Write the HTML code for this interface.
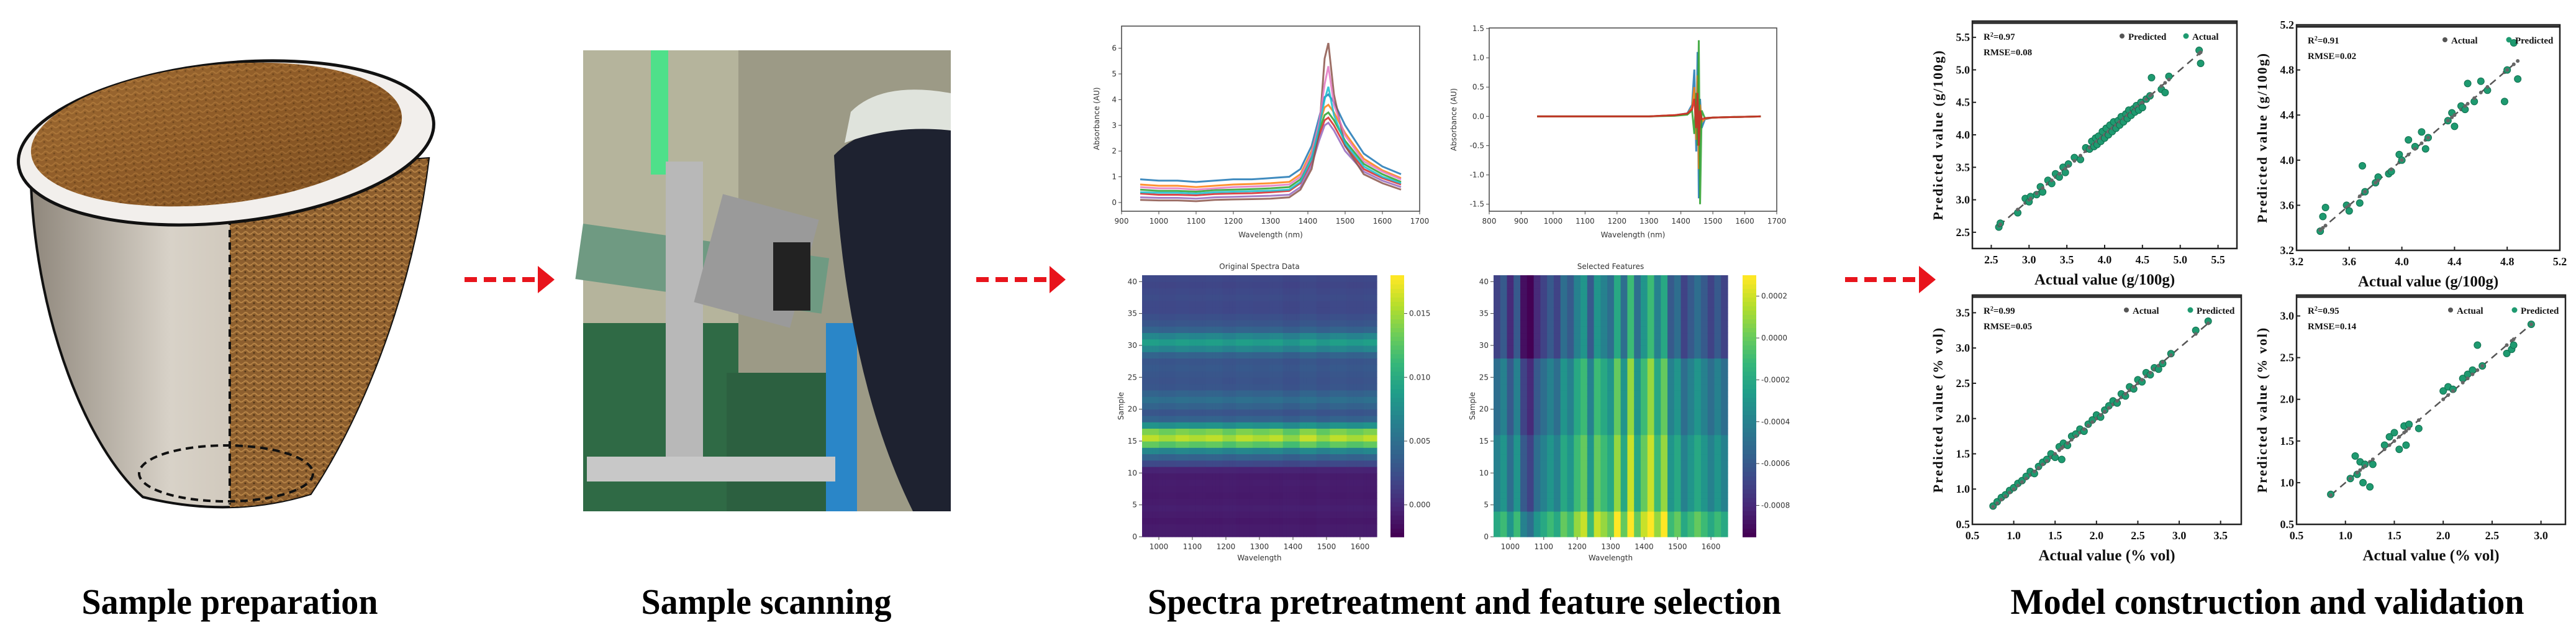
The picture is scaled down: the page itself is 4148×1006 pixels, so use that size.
<!DOCTYPE html>
<html><head><meta charset="utf-8"><style>
html,body{margin:0;padding:0;background:#fff;}
svg{display:block;}
.cap{font-family:"Liberation Serif",serif;font-weight:bold;font-size:58px;fill:#000;}
.sm{font-family:"DejaVu Sans","Liberation Sans",sans-serif;font-size:12px;fill:#333;}
.sr{font-family:"Liberation Serif",serif;font-weight:bold;fill:#111;}
</style></head><body>
<svg id="root" width="4148" height="1006" viewBox="0 0 4148 1006" xmlns="http://www.w3.org/2000/svg">
<defs>
<linearGradient id="potBody" x1="0" x2="1"><stop offset="0" stop-color="#8f877c"/><stop offset="0.35" stop-color="#d8d2c8"/><stop offset="1" stop-color="#b9ab98"/></linearGradient>
<linearGradient id="soil" x1="0" x2="1" y1="0" y2="1"><stop offset="0" stop-color="#b07a3c"/><stop offset="0.5" stop-color="#8f5a26"/><stop offset="1" stop-color="#6b4118"/></linearGradient>
<pattern id="grain" width="14" height="10" patternUnits="userSpaceOnUse"><rect width="14" height="10" fill="#8a5a28"/><path d="M0 5 Q4 1 7 5 T14 5" stroke="#b58040" stroke-width="2" fill="none"/><circle cx="3" cy="8" r="1.5" fill="#4d2f10"/></pattern>
<clipPath id="potR"><rect x="370" y="0" width="400" height="900"/></clipPath>
</defs>

<g>
<path d="M50 300 C 60 520, 140 720, 230 800 Q370 835 500 795 C 590 660, 665 460, 690 255 Z" fill="url(#potBody)" stroke="#111" stroke-width="4"/>
<path d="M50 300 C 60 520, 140 720, 230 800 Q370 835 500 795 C 590 660, 665 460, 690 255 Z" fill="url(#grain)" clip-path="url(#potR)" opacity="0.95"/>
<line x1="370" y1="350" x2="370" y2="812" stroke="#111" stroke-width="4" stroke-dasharray="12 8"/>
<ellipse cx="364" cy="762" rx="140" ry="45" fill="none" stroke="#111" stroke-width="4" stroke-dasharray="12 8"/>
<ellipse cx="364" cy="230" rx="336" ry="128" fill="#f2efec" stroke="#111" stroke-width="5" transform="rotate(-6 364 230)"/>
<ellipse cx="350" cy="215" rx="300" ry="112" fill="url(#soil)" transform="rotate(-6 364 230)"/>
<ellipse cx="350" cy="215" rx="300" ry="112" fill="url(#grain)" opacity="0.5" transform="rotate(-6 364 230)"/>
</g>

<g>
<rect x="939" y="81" width="592" height="742" fill="#9c9a86"/>
<rect x="939" y="81" width="250" height="742" fill="#b5b49c"/>
<rect x="939" y="360" width="400" height="90" fill="#6f9a82" transform="rotate(8 939 360)"/>
<rect x="939" y="520" width="250" height="303" fill="#2f6a45"/>
<rect x="1170" y="600" width="200" height="223" fill="#2c6040"/>
<rect x="1330" y="520" width="50" height="303" fill="#2a86c8"/>
<rect x="1048" y="81" width="28" height="200" fill="#4fe08a"/>
<rect x="1072" y="260" width="60" height="500" fill="#b8b8b8"/>
<rect x="945" y="735" width="400" height="40" fill="#c8c8c8"/>
<rect x="1138" y="330" width="160" height="180" fill="#9a9a9a" transform="rotate(15 1218 420)"/>
<rect x="1245" y="390" width="60" height="110" fill="#222"/>
<path d="M1343 250 Q1400 190 1531 200 L1531 823 L1470 823 Q1360 600 1343 250 Z" fill="#1e2230"/>
<path d="M1360 230 Q1440 200 1531 210 L1531 150 Q1420 130 1370 180 Z" fill="#dfe3dc"/>
</g>

<g><line x1="748" y1="450" x2="866" y2="450" stroke="#e8141c" stroke-width="8" stroke-dasharray="20 11"/><path d="M866 428 L893 450 L866 472 Z" fill="#e8141c"/></g>
<g><line x1="1572" y1="450" x2="1690" y2="450" stroke="#e8141c" stroke-width="8" stroke-dasharray="20 11"/><path d="M1690 428 L1716 450 L1690 472 Z" fill="#e8141c"/></g>
<g><line x1="2971" y1="450" x2="3090" y2="450" stroke="#e8141c" stroke-width="8" stroke-dasharray="20 11"/><path d="M3090 428 L3117 450 L3090 472 Z" fill="#e8141c"/></g>

<text class="cap" x="370" y="988" text-anchor="middle" textLength="477" lengthAdjust="spacingAndGlyphs">Sample preparation</text>
<text class="cap" x="1234" y="988" text-anchor="middle" textLength="403" lengthAdjust="spacingAndGlyphs">Sample scanning</text>
<text class="cap" x="2358" y="988" text-anchor="middle" textLength="1020" lengthAdjust="spacingAndGlyphs">Spectra pretreatment and feature selection</text>
<text class="cap" x="3651" y="988" text-anchor="middle" textLength="827" lengthAdjust="spacingAndGlyphs">Model construction and validation</text>
<g id="charts"></g>
</svg>
<script>
const wl = [950,1000,1050,1100,1150,1200,1250,1300,1350,1380,1410,1430,1445,1455,1470,1500,1550,1600,1650];
const rawS1 = [0.9,0.85,0.85,0.8,0.85,0.9,0.9,0.95,1.0,1.3,2.2,3.3,4.1,4.2,3.9,3.0,1.9,1.4,1.1];
const rawS2 = [0.7,0.65,0.65,0.6,0.65,0.7,0.72,0.75,0.8,1.1,2.0,3.0,3.7,3.8,3.5,2.7,1.7,1.25,0.95];
const rawS3 = [0.5,0.45,0.45,0.42,0.48,0.5,0.52,0.55,0.6,0.9,1.8,2.8,3.4,3.5,3.2,2.4,1.5,1.1,0.8];
const rawS4 = [0.35,0.3,0.3,0.28,0.33,0.35,0.36,0.4,0.45,0.75,1.6,2.6,3.2,3.3,3.0,2.2,1.3,0.95,0.7];
const rawS5 = [0.2,0.18,0.18,0.15,0.2,0.22,0.24,0.26,0.3,0.6,1.45,2.4,3.0,3.1,2.8,2.0,1.2,0.85,0.6];
const rawS6 = [0.1,0.08,0.08,0.05,0.1,0.12,0.13,0.15,0.2,0.5,1.3,2.7,5.6,6.2,4.2,2.2,1.1,0.75,0.5];
const rawS7 = [0.6,0.55,0.55,0.5,0.55,0.6,0.62,0.65,0.7,1.0,1.9,3.1,4.6,5.3,3.8,2.6,1.6,1.2,0.9];
const rawS8 = [0.4,0.38,0.38,0.35,0.4,0.42,0.44,0.46,0.5,0.8,1.7,2.9,4.0,4.5,3.4,2.3,1.4,1.0,0.75];
const rawTicksX = [900,1000,1100,1200,1300,1400,1500,1600,1700];
const rawTicksY = [0,1,2,3,4,5,6];

const wl2 = [950,1300,1380,1420,1435,1442,1448,1452,1456,1460,1465,1475,1500,1650];
const derD1 = [0,0,0.02,0.05,0.2,0.8,-0.6,1.1,-1.4,0.3,-0.2,-0.05,-0.02,0];
const derD2 = [0,0,0.02,0.04,0.15,0.5,-0.4,0.7,-0.9,0.2,-0.1,-0.04,-0.02,0];
const derD3 = [0,0,0.01,0.03,0.1,-0.3,0.4,-0.5,1.3,-1.5,0.1,-0.03,-0.02,0];
const derD4 = [0,0,0.02,0.05,0.12,0.3,-0.2,0.4,-0.5,0.1,-0.05,-0.03,-0.02,0];
const derTicksX = [800,900,1000,1100,1200,1300,1400,1500,1600,1700];
const derTicksY = [-1.5,-1.0,-0.5,0.0,0.5,1.0,1.5];

const h1rows = [-0.001,-0.001,-0.0012,-0.001,-0.0008,-0.001,-0.0011,-0.001,-0.0009,-0.001,-0.0005,0.002,0.004,0.007,0.013,0.016,0.014,0.008,0.004,0.003,0.004,0.005,0.004,0.003,0.0028,0.003,0.0032,0.003,0.004,0.007,0.009,0.007,0.004,0.003,0.0025,0.002,0.002,0.0022,0.002,0.0018,0.002];
const h1colMod = [1,0.95,1,0.97,1,0.93,1,0.96,1,0.9,1.02,0.92,1,0.95,1];
const h1cbTicks = [0.000,0.005,0.010,0.015];
const h2cols = [-0.0004,-0.0003,-0.0005,-0.0003,-0.0006,-0.0007,-0.0005,-0.0004,-0.0003,-0.0004,-0.0002,-0.0003,-0.0001,0.0000,-0.0003,0.0000,-0.0001,-0.0002,0.0001,-0.0002,0.0002,-0.0002,0.0000,0.0002,-0.0001,0.0001,-0.0003,-0.0002,-0.0004,-0.0003,-0.0002,-0.0003,-0.0004,-0.0003,-0.0004];
const h2bandEdges = [0,4,16,28,41];
const h2bandOff = [0.0002,0,-0.0001,-0.0003];
const h2cbTicks = [0.0002,0.0000,-0.0002,-0.0004,-0.0006,-0.0008];
const hmTicksX = [1000,1100,1200,1300,1400,1500,1600];
const hmTicksY = [0,5,10,15,20,25,30,35,40];

const tlActual = [2.60,2.62,2.85,2.95,3.00,3.02,3.10,3.15,3.18,3.25,3.30,3.35,3.40,3.45,3.48,3.52,3.60,3.68,3.75,3.80,3.83,3.86,3.88,3.90,3.92,3.95,3.97,4.00,4.02,4.05,4.07,4.10,4.12,4.15,4.18,4.20,4.22,4.25,4.28,4.30,4.32,4.35,4.38,4.40,4.42,4.45,4.48,4.50,4.55,4.60,4.62,4.75,4.80,4.85,5.25,5.27];
const tlPred = [2.58,2.64,2.80,3.02,2.97,3.05,3.08,3.20,3.12,3.30,3.25,3.40,3.35,3.50,3.42,3.55,3.65,3.62,3.80,3.78,3.90,3.82,3.95,3.85,3.98,3.90,4.05,3.95,4.10,4.00,4.15,4.05,4.20,4.10,4.22,4.15,4.28,4.20,4.32,4.25,4.38,4.30,4.40,4.35,4.45,4.38,4.50,4.42,4.55,4.60,4.88,4.70,4.65,4.90,5.30,5.10];
const trActual = [3.38,3.40,3.42,3.58,3.60,3.68,3.70,3.72,3.80,3.82,3.90,3.92,3.98,4.00,4.05,4.10,4.15,4.18,4.20,4.35,4.38,4.40,4.45,4.48,4.50,4.55,4.60,4.65,4.78,4.80,4.85,4.88];
const trPred = [3.37,3.50,3.58,3.60,3.55,3.62,3.95,3.72,3.80,3.85,3.88,3.90,4.05,4.00,4.18,4.12,4.25,4.10,4.20,4.35,4.42,4.30,4.48,4.45,4.68,4.52,4.70,4.62,4.52,4.80,5.04,4.72];
const blActual = [0.75,0.80,0.85,0.90,0.95,1.00,1.05,1.10,1.15,1.20,1.25,1.30,1.35,1.40,1.45,1.50,1.55,1.58,1.60,1.65,1.70,1.75,1.80,1.85,1.90,1.95,2.00,2.05,2.10,2.15,2.20,2.25,2.30,2.35,2.40,2.45,2.50,2.55,2.60,2.65,2.70,2.75,2.80,2.90,3.20,3.35];
const blPred = [0.76,0.82,0.88,0.92,0.98,1.02,1.08,1.12,1.18,1.25,1.22,1.32,1.38,1.42,1.50,1.45,1.60,1.42,1.65,1.62,1.75,1.78,1.85,1.82,1.92,1.98,2.05,2.02,2.12,2.18,2.25,2.22,2.35,2.32,2.45,2.42,2.55,2.52,2.65,2.62,2.72,2.70,2.78,2.92,3.25,3.38];
const brActual = [0.85,1.05,1.10,1.12,1.15,1.18,1.20,1.25,1.28,1.40,1.45,1.50,1.55,1.60,1.62,1.65,1.75,2.00,2.05,2.10,2.20,2.25,2.30,2.35,2.40,2.65,2.70,2.72,2.90];
const brPred = [0.86,1.05,1.32,1.10,1.25,1.00,1.22,0.95,1.22,1.45,1.55,1.60,1.40,1.68,1.45,1.70,1.65,2.10,2.15,2.12,2.25,2.30,2.35,2.65,2.40,2.55,2.60,2.65,2.90];
const ticksG1 = [2.5,3.0,3.5,4.0,4.5,5.0,5.5];
const ticksG2 = [3.2,3.6,4.0,4.4,4.8,5.2];
const ticksV1 = [0.5,1.0,1.5,2.0,2.5,3.0,3.5];
const ticksV2 = [0.5,1.0,1.5,2.0,2.5,3.0];

const NS="http://www.w3.org/2000/svg";
const root=document.getElementById('charts');
function mk(tag,attrs,parent,txt){const e=document.createElementNS(NS,tag);for(const k in attrs)e.setAttribute(k,attrs[k]);if(txt!==undefined)e.textContent=txt;(parent||root).appendChild(e);return e;}
function lin(d0,d1,r0,r1){return v=>r0+(v-d0)/(d1-d0)*(r1-r0);}
const VIR=[[68,1,84],[72,40,120],[62,74,137],[49,104,142],[38,130,142],[31,158,137],[53,183,121],[109,205,89],[180,222,44],[253,231,37]];
function viridis(t){t=Math.max(0,Math.min(1,t));const f=t*(VIR.length-1),i=Math.min(VIR.length-2,Math.floor(f)),u=f-i;const c=VIR[i].map((v,k)=>Math.round(v+(VIR[i+1][k]-v)*u));return `rgb(${c[0]},${c[1]},${c[2]})`;}
const TAB=['#1f77b4','#ff7f0e','#2ca02c','#d62728','#9467bd','#8c564b','#e377c2','#17becf','#bcbd22'];

function lineChart(name,box,xd,yd,xs,series,tx,ty,fmt,ylabX){
  const g=mk('g',{});
  
  
  const X=lin(xd[0],xd[1],box[0],box[2]),Y=lin(yd[0],yd[1],box[3],box[1]);
  mk('rect',{x:box[0],y:box[1],width:box[2]-box[0],height:box[3]-box[1],fill:'#fff',stroke:'#444','stroke-width':1.5},g);
  series.forEach((s,si)=>{
    const p=mk('polyline',{points:s.map((v,i)=>X(xs[i])+','+Y(v)).join(' '),fill:'none',stroke:TAB[si%TAB.length],'stroke-width':3,opacity:0.85},g);
    
    
  });
  tx.forEach(t=>{mk('line',{x1:X(t),x2:X(t),y1:box[3],y2:box[3]+5,stroke:'#444'},g);mk('text',{x:X(t),y:box[3]+20,class:'sm','text-anchor':'middle'},g,t);});
  ty.forEach(t=>{mk('line',{x1:box[0]-5,x2:box[0],y1:Y(t),y2:Y(t),stroke:'#444'},g);mk('text',{x:box[0]-8,y:Y(t)+4,class:'sm','text-anchor':'end'},g,fmt(t));});
  mk('text',{x:(box[0]+box[2])/2,y:box[3]+42,class:'sm','text-anchor':'middle','font-size':15},g,'Wavelength (nm)');
  mk('text',{x:ylabX,y:(box[1]+box[3])/2,class:'sm','text-anchor':'middle','font-size':15,transform:`rotate(-90 ${ylabX} ${(box[1]+box[3])/2})`},g,'Absorbance (AU)');
}

function heatmap(name,box,title,valFn,nCols,vmin,vmax,cbX,cbTicks,cbFmt){
  const g=mk('g',{});
  
  
  const X=lin(950,1650,box[0],box[2]),Y=lin(0,41,box[3],box[1]);
  const cw=700/nCols;
  for(let c=0;c<nCols;c++)for(let r=0;r<41;r++){
    const v=valFn(c,r);
    const x0=X(950+c*cw),x1=X(950+(c+1)*cw);
    mk('rect',{x:x0,y:Y(r+1),width:x1-x0+0.6,height:Y(r)-Y(r+1)+0.6,fill:viridis((v-vmin)/(vmax-vmin))},g);
  }
  mk('text',{x:(box[0]+box[2])/2,y:box[1]-10,class:'sm','text-anchor':'middle','font-size':14},g,title);
  hmTicksX.forEach(t=>{mk('line',{x1:X(t),x2:X(t),y1:box[3],y2:box[3]+5,stroke:'#444'},g);mk('text',{x:X(t),y:box[3]+20,class:'sm','text-anchor':'middle'},g,t);});
  hmTicksY.forEach(t=>{mk('line',{x1:box[0]-5,x2:box[0],y1:Y(t),y2:Y(t),stroke:'#444'},g);mk('text',{x:box[0]-8,y:Y(t)+4,class:'sm','text-anchor':'end'},g,t);});
  mk('text',{x:(box[0]+box[2])/2,y:box[3]+38,class:'sm','text-anchor':'middle'},g,'Wavelength');
  const lx=box[0]-30,ly=(box[1]+box[3])/2;
  mk('text',{x:lx,y:ly,class:'sm','text-anchor':'middle',transform:`rotate(-90 ${lx} ${ly})`},g,'Sample');
  const CB=lin(vmin,vmax,box[3],box[1]);
  const cb=mk('g',{},g);
  
  
  for(let i=0;i<60;i++){const y0=box[3]-(i+1)*(box[3]-box[1])/60;mk('rect',{x:cbX,y:y0,width:22,height:(box[3]-box[1])/60+0.8,fill:viridis(i/59)},cb);}
  cbTicks.forEach(t=>{mk('line',{x1:cbX+22,x2:cbX+27,y1:CB(t),y2:CB(t),stroke:'#444'},cb);mk('text',{x:cbX+30,y:CB(t)+4,class:'sm'},cb,cbFmt(t));});
}

function scatter(name,box,dom,ticks,act,pred,r2,rmse,leg1,leg2,unit){
  const g=mk('g',{});
  
  
  const X=lin(dom[0],dom[1],box[0],box[2]),Y=lin(dom[0],dom[1],box[3],box[1]);
  mk('rect',{x:box[0],y:box[1],width:box[2]-box[0],height:box[3]-box[1],fill:'#fff',stroke:'#222','stroke-width':2.5},g);
  mk('line',{x1:box[0],y1:box[1]+3,x2:box[2],y2:box[1]+3,stroke:'#222','stroke-width':3},g);
  const lo=Math.min(...act),hi=Math.max(...act);
  const fit=mk('line',{x1:X(lo),y1:Y(lo),x2:X(hi),y2:Y(hi),stroke:'#555','stroke-width':2.5,'stroke-dasharray':'12 8'},g);
  
  
  act.forEach((a,i)=>{
    const c=mk('circle',{cx:X(a),cy:Y(pred[i]),r:5.5,fill:'#1e9a70',stroke:'#127050','stroke-width':1},g);
    
    
    const d=mk('circle',{cx:X(a),cy:Y(a),r:3,fill:'#666'},g);
    
    
  });
  ticks.forEach(t=>{
    mk('line',{x1:X(t),x2:X(t),y1:box[3],y2:box[3]-6,stroke:'#222','stroke-width':2},g);
    mk('text',{x:X(t),y:box[3]+24,class:'sr','font-size':18,'text-anchor':'middle'},g,t.toFixed(1));
    mk('line',{x1:box[0],x2:box[0]+6,y1:Y(t),y2:Y(t),stroke:'#222','stroke-width':2},g);
    mk('text',{x:box[0]-4,y:Y(t)+6,class:'sr','font-size':18,'text-anchor':'end'},g,t.toFixed(1));
  });
  const t1=mk('text',{x:box[0]+18,y:box[1]+30,class:'sr','font-size':15},g);
  mk('tspan',{},t1,'R');mk('tspan',{'baseline-shift':'super','font-size':10},t1,'2');mk('tspan',{},t1,'='+r2);
  mk('text',{x:box[0]+18,y:box[1]+55,class:'sr','font-size':15},g,'RMSE='+rmse);
  const lg=mk('g',{},g);
  
  
  mk('circle',{cx:box[2]-185,cy:box[1]+24,r:4,fill:'#555'},lg);
  mk('text',{x:box[2]-175,y:box[1]+30,class:'sr','font-size':15},lg,leg1);
  mk('circle',{cx:box[2]-82,cy:box[1]+24,r:4.5,fill:'#1e9a70'},lg);
  mk('text',{x:box[2]-72,y:box[1]+30,class:'sr','font-size':15},lg,leg2);
  mk('text',{x:(box[0]+box[2])/2,y:box[3]+58,class:'sr','font-size':25,'text-anchor':'middle'},g,'Actual value ('+unit+')');
  const lx=box[0]-48,ly=(box[1]+box[3])/2;
  mk('text',{x:lx,y:ly,class:'sr','font-size':22,'letter-spacing':'2','text-anchor':'middle',transform:`rotate(-90 ${lx} ${ly})`},g,'Predicted value ('+unit+')');
}

lineChart('raw-spectra-chart',[1806,42,2286,340],[900,1700],[-0.34,6.86],wl,[rawS1,rawS2,rawS3,rawS4,rawS5,rawS6,rawS7,rawS8],rawTicksX,rawTicksY,t=>t,1770);
lineChart('derivative-spectra-chart',[2398,45,2861,340],[800,1700],[-1.62,1.51],wl2,[derD1,derD2,derD3,derD4],derTicksX,derTicksY,t=>t.toFixed(1),2345);
heatmap('original-spectra-heatmap',[1839,443,2217,864],'Original Spectra Data',(c,r)=>h1rows[r]*h1colMod[Math.floor(c*h1colMod.length/70)],70,-0.0025,0.018,2239,h1cbTicks,t=>t.toFixed(3));
heatmap('selected-features-heatmap',[2405,443,2782,864],'Selected Features',(c,r)=>{let b=0;for(let k=0;k<h2bandOff.length;k++)if(r>=h2bandEdges[k]&&r<h2bandEdges[k+1])b=k;return h2cols[c]+h2bandOff[b];},h2cols.length,-0.00095,0.0003,2806,h2cbTicks,t=>t.toFixed(4));
scatter('scatter-train-g100g',[3176,34,3602,400],[2.25,5.75],ticksG1,tlActual,tlPred,'0.97','0.08','Predicted','Actual','g/100g');
scatter('scatter-test-g100g',[3698,40,4122,403],[3.2,5.2],ticksG2,trActual,trPred,'0.91','0.02','Actual','Predicted','g/100g');
scatter('scatter-train-vol',[3176,475,3609,844],[0.5,3.75],ticksV1,blActual,blPred,'0.99','0.05','Actual','Predicted','% vol');
scatter('scatter-test-vol',[3698,475,4131,844],[0.5,3.25],ticksV2,brActual,brPred,'0.95','0.14','Actual','Predicted','% vol');
</script>
</body></html>
